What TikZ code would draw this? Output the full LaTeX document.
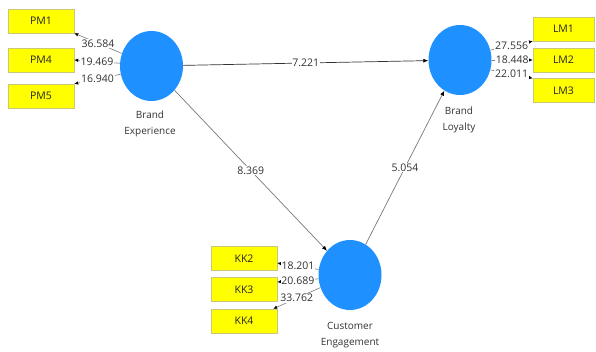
\documentclass[tikz,border=0pt]{standalone}
\usepackage{fontspec}
\setmainfont{Open Sans}
\usetikzlibrary{shapes.geometric,arrows.meta}

\definecolor{latent}{RGB}{30,144,255}
\definecolor{indic}{RGB}{255,255,0}
\definecolor{indicborder}{RGB}{200,200,120}
\definecolor{txt}{RGB}{50,50,50}
\definecolor{thinline}{RGB}{120,120,120}

\tikzset{
  construct/.style={ellipse, fill=latent, draw=none, minimum width=63pt, minimum height=70pt, inner sep=0pt},
  cname/.style={text=txt, font=\fontsize{10}{16}\selectfont, align=center},
  indicator/.style={rectangle, fill=indic, draw=indicborder, line width=0.4pt, minimum width=66pt, minimum height=24pt, inner sep=0pt, text=black!85, font=\fontsize{10.5}{12}\selectfont},
  loading/.style={draw=thinline, line width=0.6pt, -{Latex[length=4pt,width=3.5pt,color=black]}},
  structpath/.style={draw=thinline, line width=0.7pt, -{Latex[length=5pt,width=4pt,color=black]}},
  val/.style={fill=white, inner sep=0.8pt, text=txt, font=\fontsize{10.5}{12}\selectfont},
}

\begin{document}
\begin{tikzpicture}[x=1pt, y=-1pt]
  \useasboundingbox (0,0) rectangle (596,352);

  % latent constructs
  \node[construct] (be) at (151.5,66) {};
  \node[construct] (bl) at (460,60) {};
  \node[construct] (ce) at (350,275) {};

  \node[cname] (bename) at (150,124) {Brand\\Experience};
  \node[cname] (blname) at (459,120) {Brand\\Loyalty};
  \node[cname] (cename) at (350,335) {Customer\\Engagement};

  % indicators of Brand Experience
  \node[indicator] (pm1) at (41,21) {PM1};
  \node[indicator] (pm4) at (41,60) {PM4};
  \node[indicator] (pm5) at (41,96) {PM5};

  % indicators of Brand Loyalty
  \node[indicator, minimum width=61pt] (lm1) at (563.5,29) {LM1};
  \node[indicator, minimum width=61pt] (lm2) at (563.5,60) {LM2};
  \node[indicator, minimum width=61pt] (lm3) at (563.5,90.5) {LM3};

  % indicators of Customer Engagement
  \node[indicator] (kk2) at (244,258.5) {KK2};
  \node[indicator] (kk3) at (244,289.5) {KK3};
  \node[indicator] (kk4) at (244,321) {KK4};

  % outer loadings
  \draw[loading] (be.157) -- (pm1.south east) node[val, midway] {36.584};
  \draw[loading] (be.175) -- (pm4.east) node[val, midway] {19.469};
  \draw[loading] (be.195) -- (pm5.north east) node[val, midway] {16.940};

  \draw[loading] (bl.18) -- (lm1.south west) node[val, midway] {27.556};
  \draw[loading] (bl.0) -- (lm2.west) node[val, midway] {18.448};
  \draw[loading] (bl.-18) -- (lm3.north west) node[val, midway] {22.011};

  \draw[loading] (ce.170) -- ([yshift=-4.5pt]kk2.east) node[val, midway] {18.201};
  \draw[loading] (ce.187) -- ([yshift=7.5pt]kk3.east) node[val, midway] {20.689};
  \draw[loading] (ce.203) -- ([xshift=-4pt]kk4.north east) node[val, midway] {33.762};

  % structural paths
  \draw[structpath, draw=black!80] (be) -- (bl) node[val, midway] {7.221};
  \draw[structpath] (be) -- (ce) node[val, midway] {8.369};
  \draw[structpath] (ce) -- (bl) node[val, midway] {5.054};
\end{tikzpicture}
\end{document}
